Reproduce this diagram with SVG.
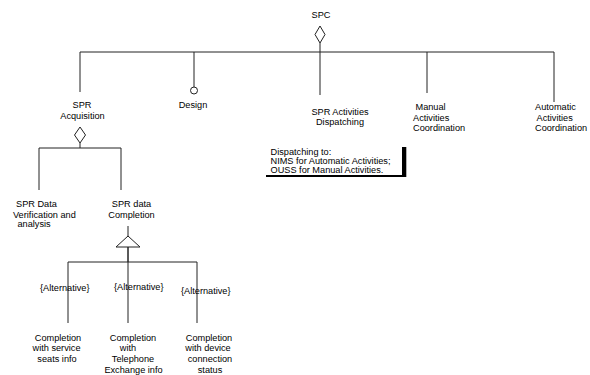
<svg xmlns="http://www.w3.org/2000/svg" width="590" height="375" viewBox="0 0 590 375">
<style>
text{font-family:"Liberation Sans",Arial,sans-serif;font-size:9.2px;fill:#000}
.c{text-anchor:middle}
.ln{stroke:#222;stroke-width:1;fill:none}
.sh{fill:#fff;stroke:#222;stroke-width:1}
</style>
<rect width="590" height="375" fill="#fff"/>
<g id="connectors">
<line class="ln" x1="80" y1="52" x2="554" y2="52"/>
<line class="ln" x1="80" y1="52" x2="80" y2="92"/>
<line class="ln" x1="194" y1="52" x2="194" y2="87"/>
<circle class="sh" cx="194" cy="90.5" r="3.5"/>
<line class="ln" x1="320" y1="43" x2="320" y2="95"/>
<polygon class="sh" points="320,26 325,34.5 320,43 315,34.5"/>
<line class="ln" x1="427" y1="52" x2="427" y2="93"/>
<line class="ln" x1="554" y1="52" x2="554" y2="102"/>
<polygon class="sh" points="80,127 85.5,135 80,143 74.5,135"/>
<line class="ln" x1="80" y1="143" x2="80" y2="148"/>
<line class="ln" x1="39" y1="148" x2="121" y2="148"/>
<line class="ln" x1="39" y1="148" x2="39" y2="190"/>
<line class="ln" x1="121" y1="148" x2="121" y2="190"/>
<line class="ln" x1="128" y1="226" x2="128" y2="262"/>
<polygon class="sh" points="128,236 140,247 116,247"/>
<line class="ln" x1="128" y1="247" x2="128" y2="323"/>
<line class="ln" x1="68" y1="262" x2="197" y2="262"/>
<line class="ln" x1="68" y1="262" x2="68" y2="323"/>
<line class="ln" x1="197" y1="262" x2="197" y2="323"/>
</g>
<g id="spc"><text class="c" x="321" y="18">SPC</text></g>
<g id="spr-acquisition"><text class="c" x="82" y="107.5">SPR</text><text class="c" x="82.5" y="119.3">Acquisition</text></g>
<g id="design"><text class="c" x="193" y="108.3">Design</text></g>
<g id="spr-activities-dispatching"><text class="c" x="340" y="115">SPR Activities</text><text class="c" x="340" y="125">Dispatching</text></g>
<g id="manual-activities"><text x="415.5" y="110">Manual</text><text x="413" y="120.5">Activities</text><text x="413" y="130.7">Coordination</text></g>
<g id="automatic-activities"><text x="535" y="110">Automatic</text><text x="536.5" y="120.5">Activities</text><text x="535" y="131">Coordination</text></g>
<g id="note">
<line x1="266" y1="176" x2="406" y2="176" stroke="#000" stroke-width="2"/>
<rect x="402" y="147" width="4.3" height="30" fill="#000"/>
<text x="270.5" y="155">Dispatching to:</text>
<text x="270.5" y="164.3">NIMS for Automatic Activities;</text>
<text x="270.5" y="173.3">OUSS for Manual Activities.</text>
</g>
<g id="spr-data-verification"><text x="16" y="207.3">SPR Data</text><text x="13" y="217.8">Verification and</text><text x="17.5" y="226.5">analysis</text></g>
<g id="spr-data-completion"><text class="c" x="131.5" y="207.3">SPR data</text><text class="c" x="131.5" y="218.3">Completion</text></g>
<g id="labels"><text x="40" y="290.5">{Alternative}</text><text x="114" y="290">{Alternative}</text><text x="181" y="294">{Alternative}</text></g>
<g id="completion-seats"><text class="c" x="58" y="340.5">Completion</text><text class="c" x="56.5" y="351.2">with service</text><text class="c" x="57" y="362">seats info</text></g>
<g id="completion-telephone"><text class="c" x="133" y="340.5">Completion</text><text class="c" x="128" y="351.2">with</text><text class="c" x="133" y="362">Telephone</text><text class="c" x="133.5" y="372.5">Exchange info</text></g>
<g id="completion-device"><text class="c" x="209" y="340.5">Completion</text><text class="c" x="208" y="351.2">with device</text><text class="c" x="210" y="362">connection</text><text class="c" x="210" y="372.5">status</text></g>
</svg>
